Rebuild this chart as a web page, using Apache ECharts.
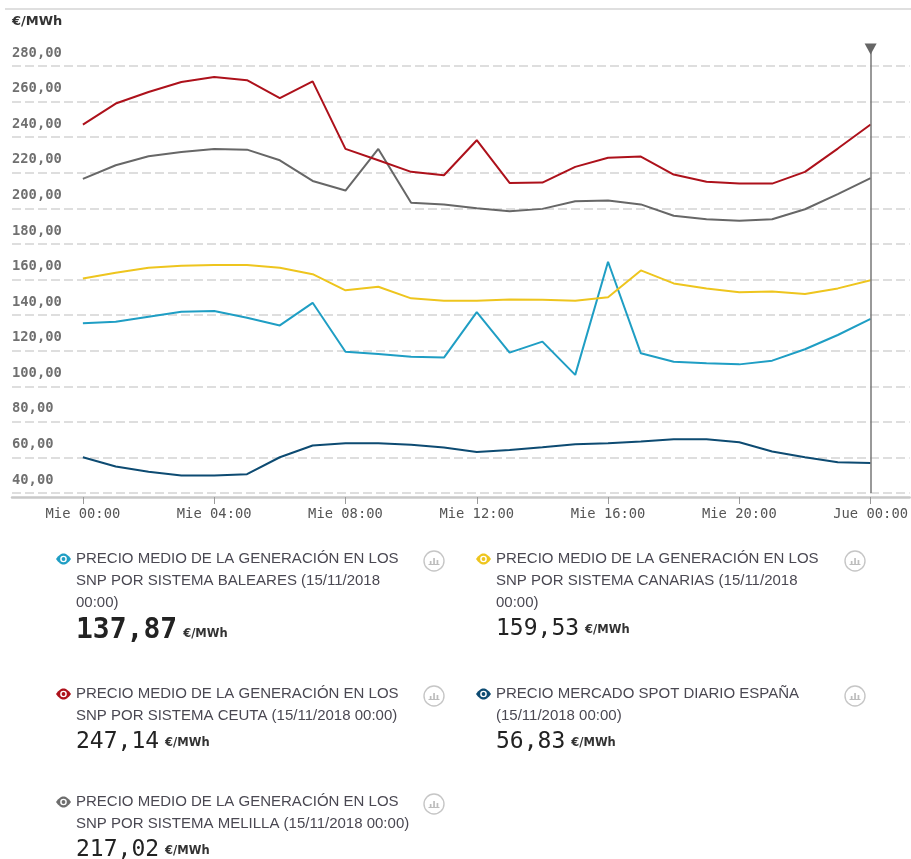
<!DOCTYPE html>
<html><head><meta charset="utf-8">
<script src="https://cdn.jsdelivr.net/npm/echarts@6/dist/echarts.min.js"></script>
<style>html,body{margin:0;padding:0;background:#fff}#c{width:911px;height:859px}</style>
</head><body><div id="c"></div>
<script>
// ---- data ----
const hours = [0,1,2,3,4,5,6,7,8,9,10,11,12,13,14,15,16,17,18,19,20,21,22,23,24];
const baleares = [135.4,136.3,139.1,141.9,142.3,138.5,134.2,146.9,119.4,118.1,116.6,116.1,141.7,118.9,125.1,106.4,170.0,118.5,113.8,112.9,112.3,114.4,120.8,128.8,137.87];
const canarias = [160.6,163.8,166.6,167.7,168.1,168.1,166.6,163.0,153.9,155.9,149.4,148.1,148.1,148.8,148.6,148.1,150.0,165.1,157.8,155.0,152.8,153.3,151.8,155.0,159.53];
const ceuta    = [247.1,258.9,265.4,271.0,273.8,272.0,262.0,271.4,233.4,227.0,220.5,218.6,238.3,214.3,214.5,223.3,228.4,229.1,219.0,214.9,213.9,213.9,220.5,233.6,247.14];
const spot     = [60.1,54.9,51.9,49.8,49.8,50.6,60.1,66.7,68.0,68.0,67.1,65.6,63.1,64.2,65.7,67.4,68.0,68.9,70.2,70.2,68.5,63.3,60.1,57.3,56.83];
const melilla  = [216.6,224.2,229.3,231.7,233.4,233.0,227.0,215.4,210.0,233.4,203.1,202.2,200.1,198.4,199.7,204.0,204.4,202.2,195.8,193.9,193.0,193.9,199.5,208.0,217.02];
const xTickValues = [0,4,8,12,16,20,24];
const xTickLabels = ['Mie 00:00','Mie 04:00','Mie 08:00','Mie 12:00','Mie 16:00','Mie 20:00','Jue 00:00'];
const yUnit = '€/MWh';
const cursorHour = 24;

const legendLines = [
  ['PRECIO MEDIO DE LA GENERACIÓN EN LOS','SNP POR SISTEMA BALEARES (15/11/2018','00:00)'],
  ['PRECIO MEDIO DE LA GENERACIÓN EN LOS','SNP POR SISTEMA CANARIAS (15/11/2018','00:00)'],
  ['PRECIO MEDIO DE LA GENERACIÓN EN LOS','SNP POR SISTEMA CEUTA (15/11/2018 00:00)'],
  ['PRECIO MERCADO SPOT DIARIO ESPAÑA','(15/11/2018 00:00)'],
  ['PRECIO MEDIO DE LA GENERACIÓN EN LOS','SNP POR SISTEMA MELILLA (15/11/2018 00:00)']
];
const legendValues = ['137,87','159,53','247,14','56,83','217,02'];

// ---- styles / layout ----
const colors = {baleares:'#1f9ec4', canarias:'#eec51e', ceuta:'#ad111b', spot:'#0d4b72', melilla:'#676767'};
const legendColors = [colors.baleares, colors.canarias, colors.ceuta, colors.spot, '#6d6d6d'];
const legendPos = [[76,559],[496,559],[76,694],[496,694],[76,802]];
const mono = '"DejaVu Sans Mono", monospace';

// almond outline for the eye icon (icon geometry, not data)
const eyePts = [];
for (let k = 0; k <= 16; k++) { const t = -1 + k/8; eyePts.push([7.5*t, -5.5*(1-t*t)]); }
for (let k = 1; k < 16; k++) { const t = 1 - k/8; eyePts.push([7.5*t, 5.5*(1-t*t)]); }

function lineSeries(name, arr, color, extra) {
  return Object.assign({
    name, type:'line', data: hours.map((h,i)=>[h, arr[i]]),
    showSymbol:false, symbol:'none', lineStyle:{color, width:2}, itemStyle:{color},
    silent:true
  }, extra||{});
}

const graphics = [
  {type:'line', shape:{x1:5,y1:9,x2:911,y2:9}, style:{stroke:'#d4d4d4', lineWidth:1.5}}
];
legendLines.forEach((lines, i) => {
  const [lx, ly] = legendPos[i];
  const col = legendColors[i];
  const ch = [];
  ch.push({type:'polygon', x:-12.5, y:0, shape:{points:eyePts}, style:{fill:col}});
  ch.push({type:'circle', x:-12.5, y:0, shape:{cx:0,cy:0,r:3.3}, style:{fill:'#fff'}});
  ch.push({type:'circle', x:-12.5, y:0, shape:{cx:0,cy:0,r:1.9}, style:{fill:col}});
  lines.forEach((t, k) => {
    ch.push({type:'text', x:0, y:k*22, style:{text:t, font:'15px "Liberation Sans", Arial, sans-serif', fill:'#4a4852', verticalAlign:'middle', align:'left'}});
  });
  const bold = i === 0;
  const vy = lines.length*22 + (bold ? 6 : 4);
  ch.push({type:'text', x:0, y:vy, style:{
    text:'{v|'+legendValues[i]+'}{u|'+yUnit+'}', verticalAlign:'middle', align:'left',
    rich:{
      v:{fontFamily:mono, fontSize: bold?28:23, fontWeight: bold?'bold':'normal', fill:'#222', verticalAlign:'bottom'},
      u:{fontFamily:'"DejaVu Sans", sans-serif', fontSize:11.5, fontWeight:'bold', fill:'#333', verticalAlign:'bottom', padding:[0,0, bold?5:4, 6]}
    }}});
  const ix = (lx < 300 ? 434 : 855) - lx;
  ch.push({type:'circle', x:ix, y:2, shape:{cx:0,cy:0,r:10}, style:{fill:'none', stroke:'#c6c6c6', lineWidth:1.4}});
  ch.push({type:'rect', x:ix, y:2, shape:{x:-4.2,y:0,width:1.7,height:3}, style:{fill:'#bdbdbd'}});
  ch.push({type:'rect', x:ix, y:2, shape:{x:-0.8,y:-3,width:1.7,height:6}, style:{fill:'#bdbdbd'}});
  ch.push({type:'rect', x:ix, y:2, shape:{x:2.6,y:-1,width:1.7,height:4}, style:{fill:'#bdbdbd'}});
  ch.push({type:'line', x:ix, y:2, shape:{x1:-5.5,y1:3.5,x2:5.5,y2:3.5}, style:{stroke:'#bdbdbd', lineWidth:1}});
  graphics.push({type:'group', x:lx, y:ly, children:ch});
});

const chart = echarts.init(document.getElementById('c'), null, {renderer:'canvas'});
chart.setOption({
  animation:false,
  backgroundColor:'#fff',
  grid:{left:12, right:0, top:50, bottom:366, containLabel:false},
  xAxis:{
    type:'value', min:-2.16, max:25.19, offset:4,
    axisLine:{show:true, onZero:false, lineStyle:{color:'#c9c9c9', width:2.5}},
    axisTick:{show:true, customValues:xTickValues, length:7, lineStyle:{color:'#9a9a9a', width:1}},
    axisLabel:{customValues:xTickValues, formatter:(v)=>xTickLabels[xTickValues.indexOf(v)], color:'#555', fontFamily:mono, fontSize:13.8, margin:10},
    splitLine:{show:false}
  },
  yAxis:{
    type:'value', min:40, max:289, interval:20,
    name:yUnit, nameLocation:'end', nameGap:28,
    nameTextStyle:{align:'left', verticalAlign:'middle', fontFamily:'"DejaVu Sans", sans-serif', fontWeight:'bold', fontSize:13, color:'#333'},
    axisLine:{show:false, onZero:false}, axisTick:{show:false},
    axisLabel:{inside:true, margin:0, showMaxLabel:false, formatter:(v)=>v.toFixed(2).replace('.',','), color:'#707070', fontFamily:mono, fontWeight:'bold', fontSize:13.8, verticalAlign:'bottom', lineHeight:26},
    splitLine:{show:true, showMaxLine:false, lineStyle:{color:'#d3d3d3', width:1.5, type:[9,4]}}
  },
  graphic: graphics,
  series:[
    lineSeries('Spot', spot, colors.spot, {
      markLine:{silent:true, symbol:['none','none'], label:{show:false}, lineStyle:{color:'#777', width:1.5, type:'solid'}, data:[{xAxis:cursorHour}]},
      markPoint:{silent:true, symbol:'triangle', symbolSize:[12,11], symbolRotate:180, symbolOffset:[0,-1], itemStyle:{color:'#666'}, label:{show:false}, data:[{coord:[cursorHour, 289]}]}
    }),
    lineSeries('Baleares', baleares, colors.baleares),
    lineSeries('Canarias', canarias, colors.canarias),
    lineSeries('Melilla', melilla, colors.melilla),
    lineSeries('Ceuta', ceuta, colors.ceuta)
  ]
});
</script></body></html>
